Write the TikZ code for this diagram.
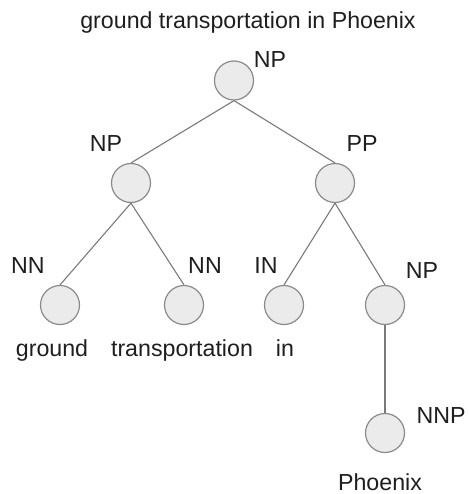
\documentclass[tikz,border=0pt]{standalone}
\usepackage{fontspec}
\setmainfont{Liberation Sans}
\definecolor{edgegray}{HTML}{7A7A7A}
\definecolor{circfill}{HTML}{EBEBEB}
\definecolor{circline}{HTML}{8A8A8A}
\definecolor{txt}{HTML}{1E1E1E}
\begin{document}
\begin{tikzpicture}[x=1pt,y=-1pt,
  tnode/.style={circle,draw=circline,fill=circfill,line width=1.2pt,minimum size=39pt,inner sep=0pt},
  lbl/.style={anchor=base,inner sep=0pt,text=txt,font=\fontsize{23.2}{27}\selectfont},
  edge/.style={draw=edgegray,line width=1.1pt}]
\useasboundingbox (0,0) rectangle (468,494);
\node[lbl] (title) at (248,29) {ground transportation in Phoenix};
% tree nodes
\node[tnode] (r) at (234,80.5) {};
\node[tnode] (np) at (131,183) {};
\node[tnode] (pp) at (335,183) {};
\node[tnode] (nn1) at (60,305) {};
\node[tnode] (nn2) at (184,305) {};
\node[tnode] (in) at (284,305) {};
\node[tnode] (np2) at (385,305) {};
\node[tnode] (nnp) at (385,433) {};
% labels
\node[lbl] (lr) at (270,68) {NP};
\node[lbl] (lnp) at (106,152) {NP};
\node[lbl] (lpp) at (362,152) {PP};
\node[lbl] (lnn1) at (28,273) {NN};
\node[lbl] (lnn2) at (205,273) {NN};
\node[lbl] (lin) at (266,273) {IN};
\node[lbl] (lnp2) at (422,278) {NP};
\node[lbl] (lnnp) at (441,423) {NNP};
% leaf words
\node[lbl] (wg) at (52,356) {ground};
\node[lbl] (wt) at (182,356) {transportation};
\node[lbl] (wi) at (285,356) {in};
\node[lbl] (wp) at (380,490) {Phoenix};
% edges
\draw[edge] (r.south) -- (np.north);
\draw[edge] (r.south) -- (pp.north);
\draw[edge] (np.south) -- (nn1.north);
\draw[edge] (np.south) -- (nn2.north);
\draw[edge] (pp.south) -- (in.north);
\draw[edge] (pp.south) -- (np2.north);
\draw[edge] (np2.south) -- (nnp.north);
\end{tikzpicture}
\end{document}
